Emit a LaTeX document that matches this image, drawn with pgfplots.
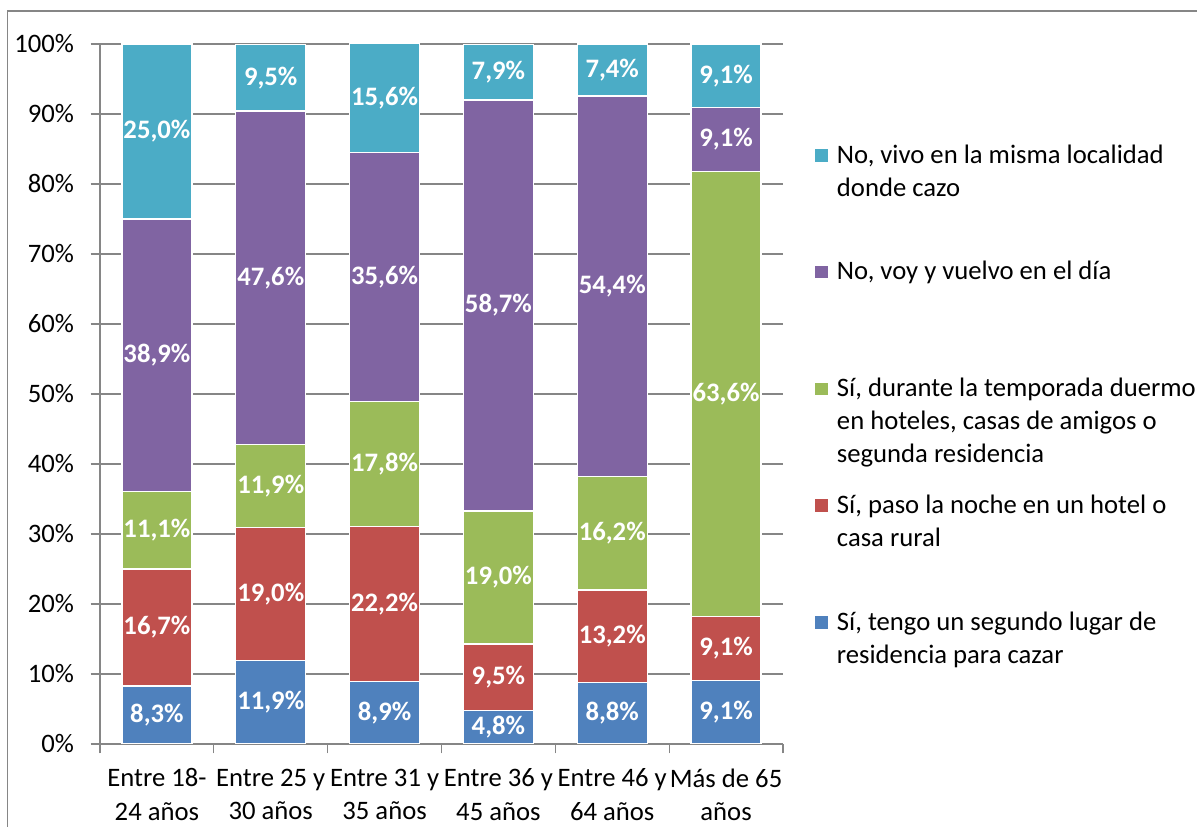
\documentclass[border=0pt]{standalone}
\usepackage{pgfplots}
\pgfplotsset{compat=1.18}
\usepackage{fontspec}
\setmainfont{Carlito}
\definecolor{cBlue}{HTML}{4F81BD}
\definecolor{cRed}{HTML}{C0504D}
\definecolor{cGreen}{HTML}{9BBB59}
\definecolor{cPurple}{HTML}{8064A2}
\definecolor{cAqua}{HTML}{4BACC6}
\definecolor{cGrid}{HTML}{868686}
\newcommand{\legtxt}[1]{\parbox[t][87.6pt][t]{300pt}{\strut #1}}
\begin{document}
\begin{tikzpicture}[font=\fontsize{20}{24.75}\selectfont]
\useasboundingbox (0,0) rectangle (897.75pt,620.25pt);
\draw[cGrid, line width=0.8pt] (5.5pt,0) -- (5.5pt,612pt) -- (897.75pt,612pt);
\begin{axis}[
  at={(75pt,62.25pt)}, anchor=south west,
  scale only axis, width=512.25pt, height=526.05pt,
  ybar stacked, bar width=52.5pt,
  xmin=-0.5, xmax=5.5, ymin=0, ymax=100.2,
  axis x line*=bottom, axis y line*=left,
  axis line style={cGrid, line width=0.9pt},
  ymajorgrids, grid style={cGrid, line width=0.9pt},
  ytick={0,10,...,100},
  yticklabels={0\%,10\%,20\%,30\%,40\%,50\%,60\%,70\%,80\%,90\%,100\%},
  yticklabel style={xshift=-9pt},
  xtick={0,...,5},
  xticklabels={{Entre 18-\\24 años},{Entre 25 y\\30 años},{Entre 31 y\\35 años},{Entre 36 y\\45 años},{Entre 46 y\\64 años},{Más de 65\\años}},
  xticklabel style={align=center, yshift=-8pt, font=\fontsize{20}{25.25}\selectfont},
  major x tick style={draw=none},
  minor xtick={-0.5,0.5,...,5.5},
  tick align=outside,
  major tick length=7pt, minor tick length=7pt,
  tick style={cGrid, line width=0.9pt},
  /pgf/number format/assume math mode=true,
  point meta=rawy,
  nodes near coords={\pgfmathprintnumber[fixed,fixed zerofill,precision=1,use comma]{\pgfplotspointmeta}\%},
  every node near coord/.append style={font=\fontsize{20}{24.75}\selectfont\bfseries, text=white, anchor=center},
  every axis plot/.append style={draw=white, line width=1.1pt,
    legend image code/.code={\fill[#1, draw=none] (0pt,1.1pt) rectangle (9.5pt,10.6pt); \path (15.7pt,0pt);}},
  reverse legend,
  legend style={at={(axis description cs:1.0469,0.8615)}, anchor=north west, draw=none, fill=none, inner sep=0pt, row sep=0pt, column sep=0pt, nodes={inner sep=0pt, anchor=base west, text height=17.3pt, text depth=70.3pt}},
]
\addplot[fill=cBlue] coordinates {(0,8.3) (1,11.9) (2,8.9) (3,4.8) (4,8.8) (5,9.1)};
\addlegendentry{\legtxt{Sí, tengo un segundo lugar de\\residencia para cazar}}
\addplot[fill=cRed] coordinates {(0,16.7) (1,19.0) (2,22.2) (3,9.5) (4,13.2) (5,9.1)};
\addlegendentry{\legtxt{Sí, paso la noche en un hotel o\\casa rural}}
\addplot[fill=cGreen] coordinates {(0,11.1) (1,11.9) (2,17.8) (3,19.0) (4,16.2) (5,63.6)};
\addlegendentry{\legtxt{Sí, durante la temporada duermo\\en hoteles, casas de amigos o\\segunda residencia}}
\addplot[fill=cPurple] coordinates {(0,38.9) (1,47.6) (2,35.6) (3,58.7) (4,54.4) (5,9.1)};
\addlegendentry{\legtxt{No, voy y vuelvo en el día}}
\addplot[fill=cAqua] coordinates {(0,25.0) (1,9.5) (2,15.6) (3,7.9) (4,7.4) (5,9.1)};
\addlegendentry{\legtxt{No, vivo en la misma localidad\\donde cazo}}
\end{axis}
\end{tikzpicture}
\end{document}
